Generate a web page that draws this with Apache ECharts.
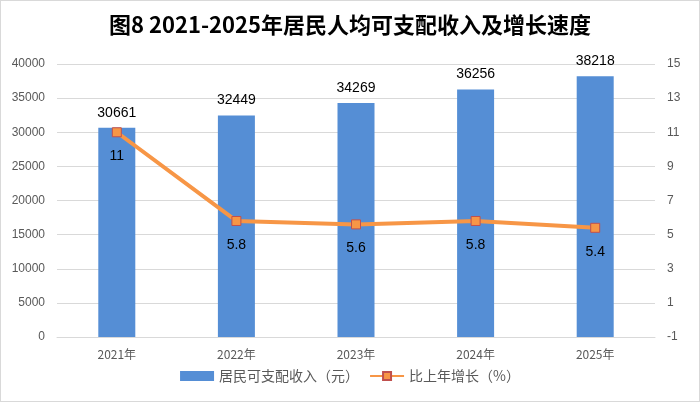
<!DOCTYPE html>
<html>
<head>
<meta charset="utf-8">
<script src="https://cdn.jsdelivr.net/npm/echarts@6/dist/echarts.min.js"></script>
<style>
  html, body { margin: 0; padding: 0; background: #fff; }
  #main { width: 698px; height: 400px; border: 1px solid #d9d9d9; }
</style>
</head>
<body>
<div id="main"></div>
<script>
// chart data
const years = ["2021年", "2022年", "2023年", "2024年", "2025年"];
const income = [30661, 32449, 34269, 36256, 38218];
const growth = [11, 5.8, 5.6, 5.8, 5.4];

const chart = echarts.init(document.getElementById("main"));

const option = {
  animation: false,
  title: {
    text: "图8 2021-2025年居民人均可支配收入及增长速度",
    left: "center",
    top: 8,
    textStyle: {
      fontFamily: "Noto Sans CJK SC",
      fontSize: 22,
      fontWeight: "bold",
      color: "#000"
    }
  },
  legend: {
    bottom: 13,
    itemGap: 10,
    textStyle: { fontFamily: "Noto Sans CJK SC", fontSize: 14, color: "#595959" },
    data: [
      { name: "居民可支配收入（元）", icon: "rect", itemStyle: { color: "#558ed5" } },
      { name: "比上年增长（%）" }
    ],
    itemWidth: 34,
    itemHeight: 10
  },
  grid: { left: 56, right: 44, top: 63, bottom: 64 },
  xAxis: {
    type: "category",
    data: years,
    axisLine: { lineStyle: { color: "#d9d9d9" } },
    axisTick: { show: false },
    axisLabel: { color: "#595959", fontSize: 12, margin: 11, fontFamily: "Noto Sans CJK SC" }
  },
  yAxis: [
    {
      type: "value",
      min: 0,
      max: 40000,
      interval: 5000,
      axisLine: { show: false },
      axisLabel: { color: "#595959", fontSize: 12, margin: 12, formatter: (v) => String(v) },
      splitLine: { lineStyle: { color: "#d9d9d9" } }
    },
    {
      type: "value",
      min: -1,
      max: 15,
      interval: 2,
      axisLine: { show: false },
      axisLabel: { color: "#595959", fontSize: 12, margin: 12 },
      splitLine: { show: false }
    }
  ],
  series: [
    {
      name: "居民可支配收入（元）",
      type: "bar",
      data: income,
      barWidth: 37,
      itemStyle: { color: "#558ed5" },
      label: { show: true, position: "top", color: "#000", fontSize: 14, distance: 8 }
    },
    {
      name: "比上年增长（%）",
      type: "line",
      yAxisIndex: 1,
      data: growth,
      symbol: "rect",
      symbolSize: 9,
      lineStyle: { color: "#f79646", width: 4 },
      itemStyle: { color: "#f79646", borderColor: "#c0504d", borderWidth: 1 },
      label: { show: true, position: "bottom", color: "#000", fontSize: 14, distance: 12 }
    }
  ]
};

chart.setOption(option);
</script>
</body>
</html>
